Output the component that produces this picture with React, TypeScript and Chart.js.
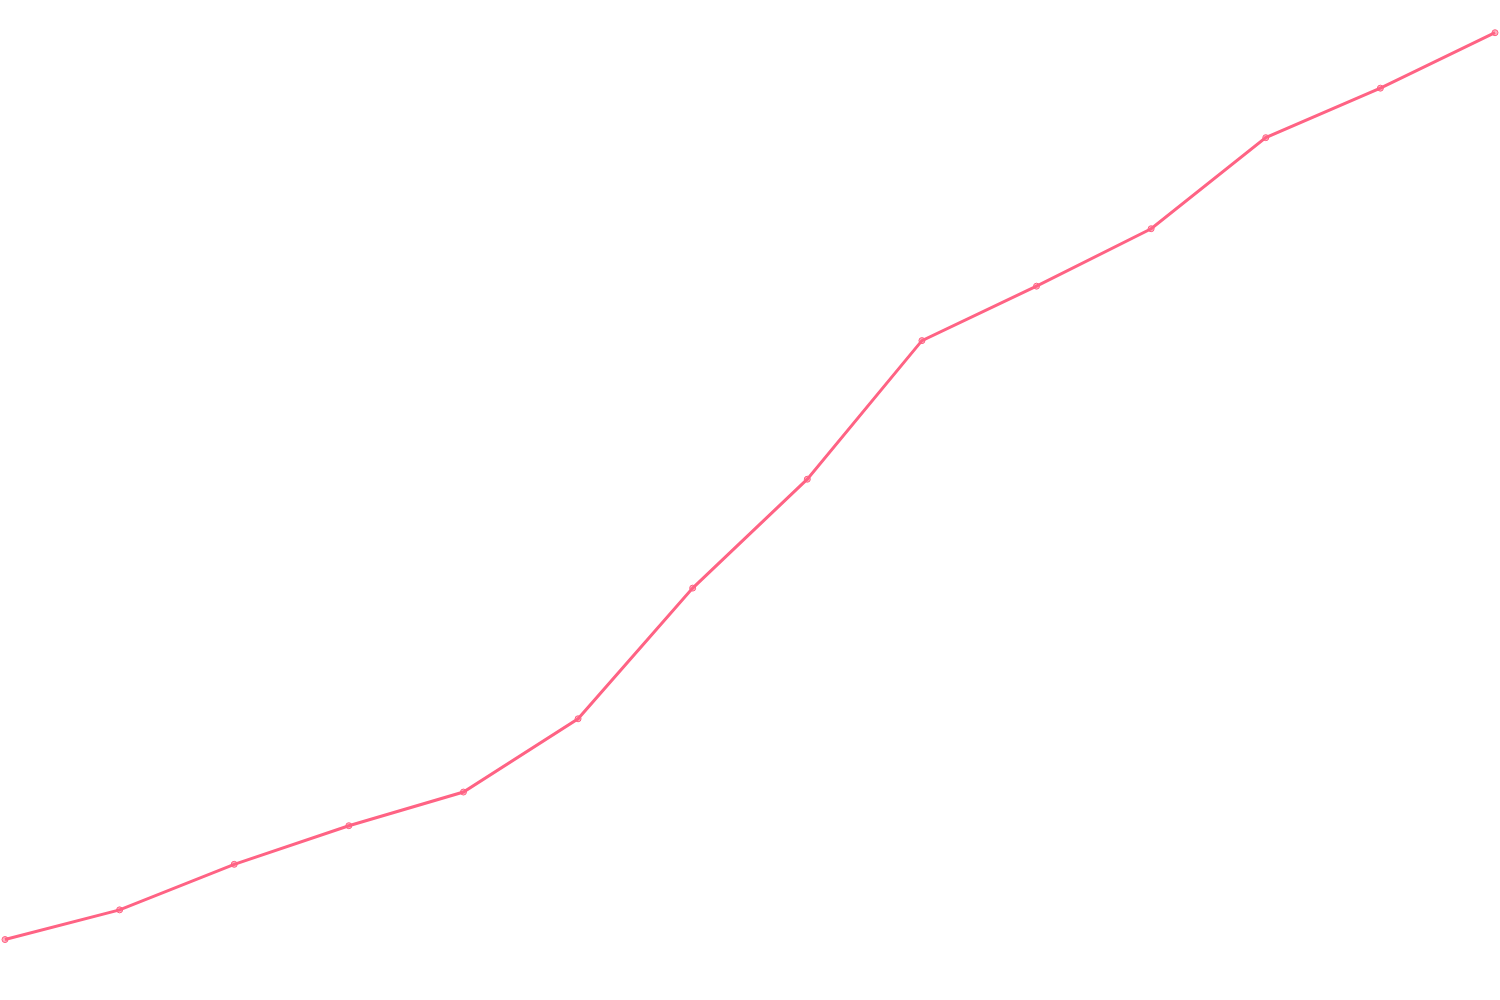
import { useEffect, useRef } from 'react';
import Chart from 'chart.js/auto';

// 14 evenly spaced points, no axes or labels visible
const labels = ['1', '2', '3', '4', '5', '6', '7', '8', '9', '10', '11', '12', '13', '14'];
const values = [5.6, 8.6, 13.2, 17.1, 20.5, 27.9, 41.1, 52.1, 66.1, 71.6, 77.4, 86.6, 91.6, 97.2];

const LineChart = () => {
  const chartRef = useRef<HTMLCanvasElement>(null);

  useEffect(() => {
    if (!chartRef.current) return;

    const ctx = chartRef.current.getContext('2d');
    if (!ctx) return;

    const chart = new Chart(ctx, {
      type: 'line',
      data: {
        labels,
        datasets: [{
          data: values,
          borderColor: 'rgb(255, 99, 132)',
          backgroundColor: 'rgba(255, 99, 132, 0.5)',
          borderWidth: 3,
          pointRadius: 3,
          pointBorderWidth: 1,
        }],
      },
      options: {
        responsive: false,
        animation: false,
        layout: { padding: 5 },
        plugins: {
          legend: { display: false },
          tooltip: { enabled: false },
        },
        scales: {
          x: { display: false },
          y: { display: false, min: 0, max: 100 },
        },
      },
    });

    return () => {
      chart.destroy();
    };
  }, []);

  return <canvas ref={chartRef} width={1500} height={1000} style={{ display: 'block' }} />;
};

export default function App() {
  useEffect(() => {
    document.body.style.margin = '0';
  }, []);

  return (
    <div style={{ width: 1500, height: 1000, background: '#fff' }}>
      <LineChart />
    </div>
  );
}
